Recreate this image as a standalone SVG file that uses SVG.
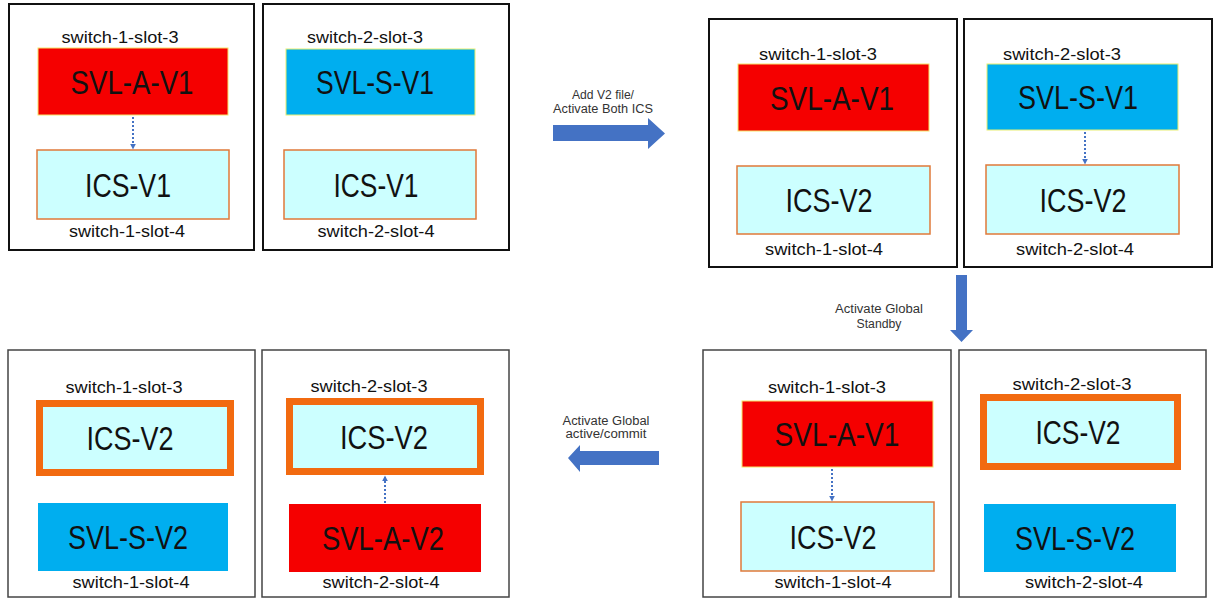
<svg xmlns="http://www.w3.org/2000/svg" width="1217" height="601" viewBox="0 0 1217 601">
<style>
.frameT{fill:#fff;stroke:#111;stroke-width:2}
.frameB{fill:#fff;stroke:#444;stroke-width:1.5}
.red{fill:#F50000;stroke:#F5E36A;stroke-width:1}
.blue{fill:#00AEEF;stroke:#E8EE70;stroke-width:1}
.blue2{fill:#00AEEF}
.red2{fill:#F50000}
.ics{fill:#CCFFFF;stroke:#E07A3A;stroke-width:1.5}
.icsT{fill:#CCFFFF;stroke:#F26A10;stroke-width:7}
.big{font-family:"Liberation Sans",Arial,sans-serif;font-size:34px;fill:#111;text-anchor:middle}
.lbl{font-family:"Liberation Sans",Arial,sans-serif;font-size:17px;fill:#111;text-anchor:middle}
.alb{font-family:"Liberation Sans",Arial,sans-serif;font-size:12.5px;fill:#333;text-anchor:middle}
.dot{stroke:#4472C4;stroke-width:2;stroke-dasharray:2 2;fill:none}
.blk{fill:#4472C4}
</style>
<defs>
<marker id="ah" viewBox="0 0 10 10" refX="9" refY="5" markerWidth="6" markerHeight="6" markerUnits="userSpaceOnUse" orient="auto">
<path d="M0,0 L10,5 L0,10 z" fill="#4472C4"/>
</marker>
</defs>

<!-- Stage 1: top-left -->
<g id="s1-switch1">
<rect class="frameT" x="9" y="4" width="245" height="246"/>
<text class="lbl" x="120" y="43" textLength="117" lengthAdjust="spacingAndGlyphs">switch-1-slot-3</text>
<rect class="red" x="38" y="48" width="190" height="67"/>
<text class="big" x="132" y="94" textLength="123" lengthAdjust="spacingAndGlyphs">SVL-A-V1</text>
<rect class="ics" x="37" y="150" width="192" height="69"/>
<text class="big" x="128" y="197" textLength="86" lengthAdjust="spacingAndGlyphs">ICS-V1</text>
<text class="lbl" x="127" y="237" textLength="116" lengthAdjust="spacingAndGlyphs">switch-1-slot-4</text>
</g>
<g id="s1-switch2">
<rect class="frameT" x="263" y="4" width="246" height="246"/>
<text class="lbl" x="365" y="43" textLength="116" lengthAdjust="spacingAndGlyphs">switch-2-slot-3</text>
<rect class="blue" x="286" y="49" width="189" height="66"/>
<text class="big" x="375" y="94" textLength="118" lengthAdjust="spacingAndGlyphs">SVL-S-V1</text>
<rect class="ics" x="284" y="150" width="192" height="69"/>
<text class="big" x="376" y="197" textLength="85" lengthAdjust="spacingAndGlyphs">ICS-V1</text>
<text class="lbl" x="376" y="237" textLength="117" lengthAdjust="spacingAndGlyphs">switch-2-slot-4</text>
</g>

<!-- Stage 2: top-right -->
<g id="s2-switch1">
<rect class="frameT" x="709" y="19" width="248" height="248"/>
<text class="lbl" x="818" y="60" textLength="118" lengthAdjust="spacingAndGlyphs">switch-1-slot-3</text>
<rect class="red" x="738" y="64" width="191" height="67"/>
<text class="big" x="832" y="110" textLength="124" lengthAdjust="spacingAndGlyphs">SVL-A-V1</text>
<rect class="ics" x="737" y="166" width="193" height="68"/>
<text class="big" x="829" y="212" textLength="87" lengthAdjust="spacingAndGlyphs">ICS-V2</text>
<text class="lbl" x="824" y="255" textLength="118" lengthAdjust="spacingAndGlyphs">switch-1-slot-4</text>
</g>
<g id="s2-switch2">
<rect class="frameT" x="964" y="19" width="248" height="248"/>
<text class="lbl" x="1062" y="60" textLength="118" lengthAdjust="spacingAndGlyphs">switch-2-slot-3</text>
<rect class="blue" x="987" y="64" width="191" height="66"/>
<text class="big" x="1078" y="109" textLength="120" lengthAdjust="spacingAndGlyphs">SVL-S-V1</text>
<rect class="ics" x="986" y="165" width="193" height="69"/>
<text class="big" x="1083" y="212" textLength="87" lengthAdjust="spacingAndGlyphs">ICS-V2</text>
<text class="lbl" x="1075" y="255" textLength="118" lengthAdjust="spacingAndGlyphs">switch-2-slot-4</text>
</g>

<!-- Stage 3: bottom-right -->
<g id="s3-switch1">
<rect class="frameB" x="703" y="350" width="248" height="247"/>
<text class="lbl" x="827" y="393" textLength="118" lengthAdjust="spacingAndGlyphs">switch-1-slot-3</text>
<rect class="red" x="742" y="401" width="191" height="66"/>
<text class="big" x="837" y="446" textLength="125" lengthAdjust="spacingAndGlyphs">SVL-A-V1</text>
<rect class="ics" x="741" y="502" width="193" height="69"/>
<text class="big" x="833" y="549" textLength="87" lengthAdjust="spacingAndGlyphs">ICS-V2</text>
<text class="lbl" x="833" y="588" textLength="117" lengthAdjust="spacingAndGlyphs">switch-1-slot-4</text>
</g>
<g id="s3-switch2">
<rect class="frameB" x="959" y="350" width="247" height="247"/>
<text class="lbl" x="1072" y="390" textLength="119" lengthAdjust="spacingAndGlyphs">switch-2-slot-3</text>
<rect class="icsT" x="983.5" y="397.5" width="194" height="69"/>
<text class="big" x="1078" y="444" textLength="85" lengthAdjust="spacingAndGlyphs">ICS-V2</text>
<rect class="blue2" x="984" y="504" width="192" height="68"/>
<text class="big" x="1075" y="550" textLength="120" lengthAdjust="spacingAndGlyphs">SVL-S-V2</text>
<text class="lbl" x="1084" y="588" textLength="118" lengthAdjust="spacingAndGlyphs">switch-2-slot-4</text>
</g>

<!-- Stage 4: bottom-left -->
<g id="s4-switch1">
<rect class="frameB" x="8" y="350" width="247" height="247"/>
<text class="lbl" x="124" y="393" textLength="117" lengthAdjust="spacingAndGlyphs">switch-1-slot-3</text>
<rect class="icsT" x="39.5" y="403.5" width="191" height="69"/>
<text class="big" x="130" y="450" textLength="87" lengthAdjust="spacingAndGlyphs">ICS-V2</text>
<rect class="blue2" x="38" y="503" width="190" height="68"/>
<text class="big" x="128" y="549" textLength="120" lengthAdjust="spacingAndGlyphs">SVL-S-V2</text>
<text class="lbl" x="131" y="588" textLength="117" lengthAdjust="spacingAndGlyphs">switch-1-slot-4</text>
</g>
<g id="s4-switch2">
<rect class="frameB" x="262" y="350" width="247" height="247"/>
<text class="lbl" x="369" y="392" textLength="117" lengthAdjust="spacingAndGlyphs">switch-2-slot-3</text>
<rect class="icsT" x="289.5" y="401.5" width="191" height="70"/>
<text class="big" x="384" y="449" textLength="88" lengthAdjust="spacingAndGlyphs">ICS-V2</text>
<rect class="red2" x="289" y="504" width="192" height="68"/>
<text class="big" x="383" y="550" textLength="122" lengthAdjust="spacingAndGlyphs">SVL-A-V2</text>
<text class="lbl" x="381" y="588" textLength="117" lengthAdjust="spacingAndGlyphs">switch-2-slot-4</text>
</g>

<!-- Connectors -->
<g id="connectors">
<line class="dot" x1="133" y1="117" x2="133" y2="149" marker-end="url(#ah)"/>
<line class="dot" x1="1085" y1="132" x2="1085" y2="164" marker-end="url(#ah)"/>
<line class="dot" x1="832" y1="469" x2="832" y2="501" marker-end="url(#ah)"/>
<line class="dot" x1="385" y1="503" x2="385" y2="476" marker-end="url(#ah)"/>

<polygon class="blk" points="553,125 648,125 648,118 665,133.5 648,149 648,141 553,141"/>
<text class="alb" x="603" y="99" textLength="62" lengthAdjust="spacingAndGlyphs">Add V2 file/</text>
<text class="alb" x="603" y="113" textLength="100" lengthAdjust="spacingAndGlyphs">Activate Both ICS</text>

<polygon class="blk" points="956,275 967,275 967,330 973,330 961.5,342 950,330 956,330"/>
<text class="alb" x="879" y="313" textLength="88" lengthAdjust="spacingAndGlyphs">Activate Global</text>
<text class="alb" x="879" y="328" textLength="45" lengthAdjust="spacingAndGlyphs">Standby</text>

<polygon class="blk" points="659,451 580,451 580,445 568,458 580,472 580,465 659,465"/>
<text class="alb" x="606" y="425" textLength="87" lengthAdjust="spacingAndGlyphs">Activate Global</text>
<text class="alb" x="606" y="438" textLength="81" lengthAdjust="spacingAndGlyphs">active/commit</text>
</g>
</svg>
